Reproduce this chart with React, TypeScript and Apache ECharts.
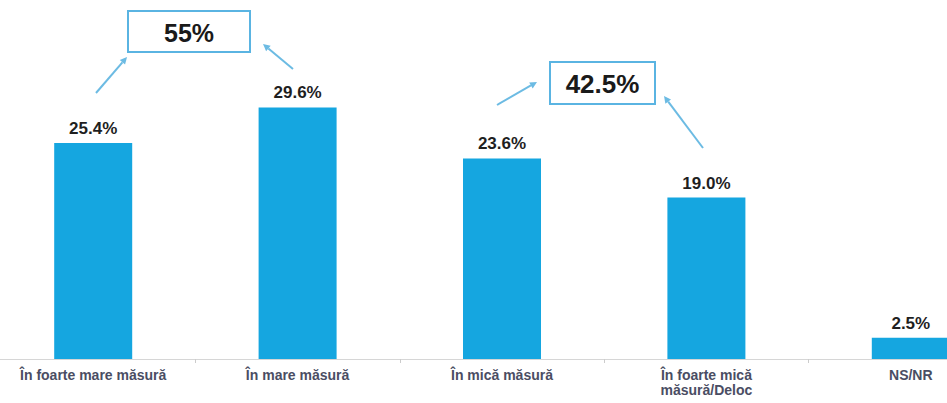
import React, { useEffect, useRef } from "react";
import * as echarts from "echarts";

const categories = [
  "În foarte mare măsură",
  "În mare măsură",
  "În mică măsură",
  "În foarte mică\nmăsură/Deloc",
  "NS/NR",
];
const values = [25.4, 29.6, 23.6, 19.0, 2.5];
const groupTotals = ["55%", "42.5%"];

const BAR = "#15a6e0";
const LINE = "#6cbbe3";
// the chart canvas is shifted left so that the first category starts off-page (as in the crop)
const SHIFT = 10;

function arrow(x1: number, y1: number, x2: number, y2: number) {
  x1 += SHIFT;
  x2 += SHIFT;
  const ang = Math.atan2(y2 - y1, x2 - x1);
  const L = 7;
  const W = 3.5;
  const bx = x2 - L * Math.cos(ang);
  const by = y2 - L * Math.sin(ang);
  const px = -Math.sin(ang) * W;
  const py = Math.cos(ang) * W;
  return [
    {
      type: "line",
      shape: { x1, y1, x2: bx, y2: by },
      style: { stroke: LINE, lineWidth: 2 },
      silent: true,
    },
    {
      type: "polygon",
      shape: {
        points: [
          [x2, y2],
          [bx + px, by + py],
          [bx - px, by - py],
        ],
      },
      style: { fill: LINE },
      silent: true,
    },
  ];
}

function box(x: number, y: number, w: number, h: number, text: string, size: number) {
  x += SHIFT;
  return [
    {
      type: "rect",
      shape: { x, y, width: w, height: h },
      style: { fill: "#ffffff", stroke: "#5ab4e2", lineWidth: 2 },
      silent: true,
    },
    {
      type: "text",
      x: x + w / 2,
      y: y + h / 2 + 1,
      style: {
        text,
        fontSize: size,
        fontWeight: "bold",
        fontFamily: "Liberation Sans, Arial, sans-serif",
        fill: "#1a1a1a",
        align: "center",
        verticalAlign: "middle",
      },
      silent: true,
    },
  ];
}

export default function App() {
  const ref = useRef<HTMLDivElement>(null);
  useEffect(() => {
    if (!ref.current) return;
    const chart = echarts.init(ref.current, undefined, { renderer: "svg" });
    chart.setOption({
      animation: false,
      backgroundColor: "#ffffff",
      grid: { left: 1, width: 1022, top: 19, bottom: 44, containLabel: false },
      xAxis: {
        type: "category",
        data: categories,
        axisLine: { lineStyle: { color: "#d6d6d6", width: 1 } },
        axisTick: { show: true, length: 4, lineStyle: { color: "#cccccc" } },
        axisLabel: {
          interval: 0,
          margin: 8,
          color: "#4a4d63",
          fontSize: 14,
          fontWeight: "bold",
          lineHeight: 15,
          fontFamily: "Liberation Sans, Arial, sans-serif",
        },
      },
      yAxis: {
        type: "value",
        min: 0,
        max: 40,
        show: false,
        splitLine: { show: false },
      },
      series: [
        {
          type: "bar",
          data: values,
          barWidth: 78,
          itemStyle: { color: BAR },
          label: {
            show: true,
            position: "top",
            distance: 6,
            formatter: (p: any) => p.value.toFixed(1) + "%",
            color: "#1f1f1f",
            fontSize: 17,
            fontWeight: "bold",
            fontFamily: "Liberation Sans, Arial, sans-serif",
          },
        },
      ],
      graphic: [
        ...box(128, 11, 122, 41, groupTotals[0], 25),
        ...arrow(96, 93, 127, 57),
        ...arrow(293, 69, 263, 44),
        ...box(550, 62, 105, 42, groupTotals[1], 26),
        ...arrow(497, 105, 537, 82),
        ...arrow(703, 148, 664, 96),
      ],
    });
    return () => chart.dispose();
  }, []);
  return (
    <div
      ref={ref}
      style={{ position: "fixed", left: -SHIFT, top: 0, width: 1024, height: 403 }}
    />
  );
}
